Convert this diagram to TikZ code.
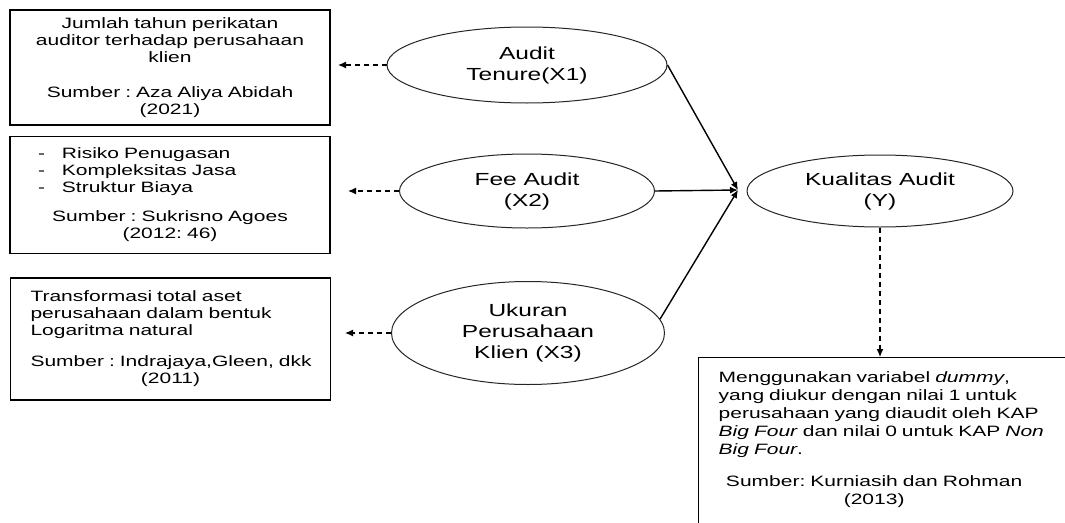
\documentclass[tikz,border=0pt]{standalone}
\usepackage{fontspec}
\setmainfont{Liberation Sans}[FakeStretch=1.4]
\usetikzlibrary{shapes.geometric,arrows.meta}
\frenchspacing
\begin{document}
\begin{tikzpicture}[x=1pt,y=-1pt,
  box/.style={draw=black, line width=1.3pt, rectangle, minimum width=320pt, text width=300pt, inner xsep=10pt, inner ysep=0pt, font=\fontsize{15pt}{17pt}\selectfont},
  var/.style={draw=black!85, line width=1pt, ellipse, inner sep=0pt, align=center, font=\fontsize{17.5pt}{21pt}\selectfont},
  dasharr/.style={-{Latex[length=8pt,width=7pt]}, dash pattern=on 5pt off 4pt, line width=1.2pt},
  solarr/.style={-{Latex[length=8pt,width=7pt]}, line width=1.4pt},
]
\useasboundingbox (0,0) rectangle (1065,522);
\clip (0,0) rectangle (1065,522);

% left boxes
\node[box, align=center, minimum height=115pt] (b1) at (170,67.5)
  {Jumlah tahun perikatan\\ auditor terhadap perusahaan\\ klien\\[18pt] Sumber : Aza Aliya Abidah\\ (2021)};
\node[box, align=left, minimum height=117pt] (b2) at (170,195)
  {\hspace*{18pt}\makebox[24pt][l]{-}Risiko Penugasan\\
   \hspace*{18pt}\makebox[24pt][l]{-}Kompleksitas Jasa\\
   \hspace*{18pt}\makebox[24pt][l]{-}Struktur Biaya\\[12pt]
   \makebox[\linewidth]{Sumber : Sukrisno Agoes}\\
   \makebox[\linewidth]{(2012: 46)}};
\node[box, align=left, minimum height=122pt] (b3) at (170.5,339)
  {\hspace*{10pt}Transformasi total aset\\
   \hspace*{10pt}perusahaan dalam bentuk\\
   \hspace*{10pt}Logaritma natural\\[14pt]
   \hspace*{10pt}Sumber : Indrajaya,Gleen, dkk\\
   \makebox[\linewidth]{(2011)}};

% ellipses
\node[var, minimum width=280pt, minimum height=76pt] (e1) at (527,65) {Audit\\Tenure(X1)};
\node[var, minimum width=255pt, minimum height=74pt] (e2) at (527,191) {Fee Audit\\(X2)};
\node[var, minimum width=273pt, minimum height=103pt] (e3) at (528,333) {Ukuran\\Perusahaan\\Klien (X3)};
\node[var, minimum width=266pt, minimum height=72pt] (eY) at (880,191) {Kualitas Audit\\(Y)};

% right box
\node[draw=black, line width=1.3pt, rectangle, anchor=north west, text width=345pt,
      inner xsep=20pt, inner ysep=14pt, align=left, font=\fontsize{15pt}{18pt}\selectfont] (bY) at (698,357)
  {Menggunakan variabel \textit{dummy},\\
   yang diukur dengan nilai 1 untuk\\
   perusahaan yang diaudit oleh KAP\\
   \textit{Big Four} dan nilai 0 untuk KAP \textit{Non}\\
   \textit{Big Four}.\\[14pt]
   \hspace*{-17pt}\makebox[\linewidth]{Sumber: Kurniasih dan Rohman}\\
   \hspace*{-17pt}\makebox[\linewidth]{(2013)}\\[40pt]\mbox{}};

% dashed arrows to boxes
\coordinate (t1) at (338,65);
\coordinate (t2) at (348,191);
\coordinate (t3) at (345,333);
\draw[dasharr] (e1.west) -- (t1);
\draw[dasharr] (e2.west) -- (t2);
\draw[dasharr] (e3.west) -- (t3);

% solid arrows to Y
\coordinate (conv) at (738,190);
\draw[solarr] (e1.east) -- (conv);
\draw[solarr] (e2.east) -- (conv);
\draw[solarr] (e3.6) -- (conv);

% dashed arrow from Y down
\draw[dasharr] (eY.south) -- (eY.south |- bY.north);
\end{tikzpicture}
\end{document}
